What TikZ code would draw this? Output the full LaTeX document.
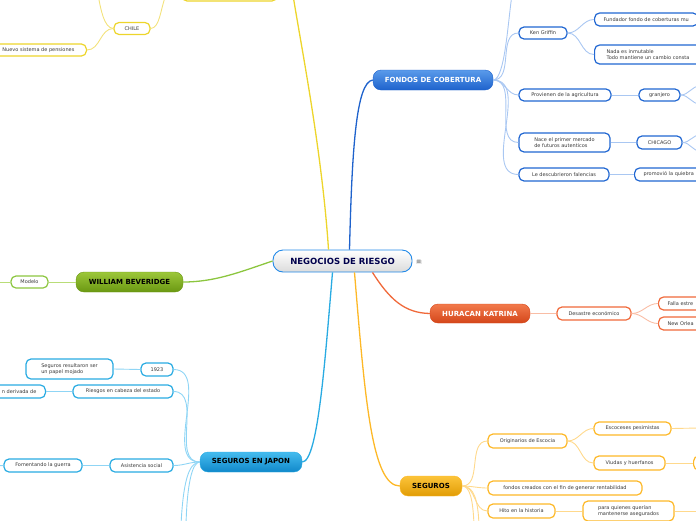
\documentclass[tikz,border=0pt]{standalone}
\usepackage{fontspec}
\setmainfont{DejaVu Sans}

% branch colours
\definecolor{leaftext}{HTML}{3A3A3A}
\definecolor{ylwbd}{HTML}{EDD52B}
\definecolor{ylwln}{HTML}{F3E27C}
\definecolor{bluebd}{HTML}{2167D2}
\definecolor{blueln}{HTML}{A9C7F2}
\definecolor{bluemain}{HTML}{1E62CC}
\definecolor{bluetop}{HTML}{5A9BEA}
\definecolor{orgbd}{HTML}{F0693A}
\definecolor{orgln}{HTML}{F9BDA5}
\definecolor{orgtop}{HTML}{F27A4C}
\definecolor{orgbot}{HTML}{D4461A}
\definecolor{grnbd}{HTML}{8CC63F}
\definecolor{grnln}{HTML}{B9DD78}
\definecolor{grntop}{HTML}{9CC73A}
\definecolor{grnbot}{HTML}{6A9812}
\definecolor{cyanbd}{HTML}{29ABE2}
\definecolor{cyanln}{HTML}{8FD5F5}
\definecolor{cyantop}{HTML}{45BCEF}
\definecolor{cyanbot}{HTML}{1088CA}
\definecolor{goldbd}{HTML}{FDB827}
\definecolor{goldln}{HTML}{FFD98C}
\definecolor{goldtop}{HTML}{FCC43A}
\definecolor{goldbot}{HTML}{E19C05}

\tikzset{
  leaf/.style={draw, fill=white, rounded corners=5pt, line width=1.2pt,
    font=\fontsize{5}{6}\selectfont, text=leaftext, inner sep=0pt,
    minimum height=13pt},
  yleaf/.style={leaf, draw=ylwbd},
  bleaf/.style={leaf, draw=bluebd},
  oleaf/.style={leaf, draw=orgbd},
  gleaf/.style={leaf, draw=grnbd},
  cleaf/.style={leaf, draw=cyanbd},
  sleaf/.style={leaf, draw=goldbd},
  topic/.style={rounded corners=8pt, inner sep=0pt, minimum height=20pt,
    font=\fontsize{7}{8}\selectfont\bfseries},
  mainline/.style={line width=1.3pt},
  twig/.style={line width=0.9pt},
}

\begin{document}
\begin{tikzpicture}[x=1pt, y=-1pt]
    \useasboundingbox (0,0) rectangle (696,520);
    \clip (0,0) rectangle (696,520);

    % Central topic
    \node[draw=cyanbd!80!blue, line width=0.9pt, rounded corners=10pt,
          top color=white, bottom color=gray!28, text=blue!30!black,
          minimum width=139pt, minimum height=22pt, inner sep=0pt,
          font=\fontsize{8.5}{10}\selectfont\bfseries] (center) at (342.5,261) {NEGOCIOS DE RIESGO};
    \node[fill=gray!18, text=gray!70!black, inner sep=0.8pt,
          font=\fontsize{6}{6}\selectfont] (menu) at (419,262) {≡};

    % Main topics
    \node[topic, draw=bluemain, top color=bluetop, bottom color=bluemain,
          text=white, minimum width=120pt] (fondos) at (433,80) {FONDOS DE COBERTURA};
    \node[topic, draw=orgbot, top color=orgtop, bottom color=orgbot,
          text=white, minimum width=100pt, minimum height=19pt] (katrina) at (480,313.5) {HURACAN KATRINA};
    \node[topic, draw=grnbot, top color=grntop, bottom color=grnbot,
          text=black, minimum width=107pt] (beveridge) at (129.5,282) {WILLIAM BEVERIDGE};
    \node[topic, draw=cyanbd, top color=cyantop, bottom color=cyanbot,
          text=black, minimum width=102pt] (japon) at (251,462) {SEGUROS EN JAPON};
    \node[topic, draw=goldbd, top color=goldtop, bottom color=goldbot,
          text=black, minimum width=62pt] (seguros) at (431,486) {SEGUROS};

    % Yellow branch (top, mostly off the page)
    \node[yleaf, minimum width=95pt, minimum height=16pt] (ytop) at (229.5,-7) {};
    \node[yleaf, minimum width=36pt, minimum height=12pt] (chile) at (132,28.5) {CHILE};
    \node[yleaf, minimum width=96pt, minimum height=12pt, anchor=east] (pensiones) at (87,50) {Nuevo sistema de pensiones};
    \coordinate (yup) at (293,-5);
    \coordinate (chileup) at (166,-5);
    \coordinate (chileother) at (98,-5);

    % Fondos de cobertura
    \node[bleaf, minimum width=48pt, minimum height=12pt] (ken) at (543,33) {Ken Griffin};
    \node[bleaf, anchor=west, inner xsep=9pt] (fundador) at (594,19.5) {Fundador fondo de coberturas mu};
    \node[bleaf, anchor=west, inner xsep=12pt, minimum height=19pt, align=left] (nada) at (594,54.5) {Nada es inmutable\\Todo mantiene un cambio consta};
    \node[bleaf, minimum width=92pt, minimum height=12pt] (agricultura) at (565,95) {Provienen de la agricultura};
    \node[bleaf, minimum width=41pt, minimum height=12pt] (granjero) at (659.5,95) {granjero};
    \node[bleaf, minimum width=91pt, minimum height=19pt, align=left] (mercado) at (564.5,142.5) {Nace el primer mercado\\de futuros autenticos};
    \node[bleaf, minimum width=45pt] (chicago) at (659.5,142.5) {CHICAGO};
    \node[bleaf, minimum width=90pt] (falencias) at (564,174.5) {Le descubrieron falencias};
    \node[bleaf, anchor=west, inner xsep=9pt] (quiebra) at (634,174.5) {promovió la quiebra};
    \coordinate (fondosup) at (512,-5);
    \coordinate (granjeroA) at (700,86);
    \coordinate (granjeroB) at (700,104);
    \coordinate (chicagoA) at (700,135);
    \coordinate (chicagoB) at (700,151);

    % Huracan Katrina
    \node[oleaf, minimum width=74pt] (desastre) at (594,313.5) {Desastre económico};
    \node[oleaf, anchor=west, inner xsep=9pt] (falla) at (658,303.5) {Falla estre};
    \node[oleaf, anchor=west, inner xsep=9pt] (orleans) at (658,323.5) {New Orlea};

    % William Beveridge
    \node[gleaf, minimum width=37pt, minimum height=12pt] (modelo) at (29.5,282) {Modelo};
    \coordinate (modelofar) at (-5,282);

    % Seguros en Japon
    \node[cleaf, minimum width=32pt] (y1923) at (157,369.5) {1923};
    \node[cleaf, minimum width=87pt, minimum height=20pt, align=left] (papel) at (69.5,369) {Seguros resultaron ser\\un papel mojado};
    \node[cleaf, minimum width=100pt] (riesgos) at (123,391.5) {Riesgos en cabeza del estado};
    \node[cleaf, anchor=east, inner xsep=9pt] (derivada) at (46,391.5) {n derivada de};
    \node[cleaf, minimum width=63pt] (asistencia) at (141.5,465.5) {Asistencia social};
    \node[cleaf, minimum width=78pt] (fomentando) at (43,465.5) {Fomentando la guerra};
    \coordinate (fomentandofar) at (-5,466);
    \coordinate (japondownA) at (181,525);
    \coordinate (japondownB) at (186,525);

    % Seguros
    \node[sleaf, minimum width=79pt, minimum height=14pt] (escocia) at (527.5,441) {Originarios de Escocia};
    \node[sleaf, minimum width=77pt] (escoceses) at (632.5,428.5) {Escoceses pesimistas};
    \node[sleaf, minimum width=71pt, minimum height=14pt] (viudas) at (629.5,463) {Viudas y huerfanos};
    \node[sleaf, anchor=west, minimum width=20pt, minimum height=14pt] (viudasnext) at (693,463) {};
    \node[sleaf, minimum width=154pt, minimum height=14pt] (creados) at (565,488) {fondos creados con el fin de generar rentabilidad};
    \node[sleaf, minimum width=67pt, minimum height=14pt] (hito) at (521.5,511) {Hito en la historia};
    \node[sleaf, minimum width=91pt, minimum height=20pt, align=left] (quienes) at (628.5,511) {para quienes querían\\mantenerse asegurados};
    \coordinate (escocesesfar) at (700,428);
    \coordinate (quienesfar) at (700,511);
    \coordinate (segurosdownA) at (474,525);
    \coordinate (segurosdownB) at (479,525);

    % Lines from the central topic
    \draw[mainline, ylwbd] ([xshift=-14pt]center.north) .. controls (322,150) and (300,40) .. (yup);
    \draw[mainline, bluemain] ([xshift=7pt]center.north) .. controls (352,150) and (356,82) .. (fondos.west);
    \draw[mainline, orgbd] ([xshift=30pt]center.south) .. controls (390,300) and (405,313) .. (katrina.west);
    \draw[mainline, grnbd] (center.west) .. controls (240,272) and (215,282) .. (beveridge.east);
    \draw[mainline, cyanbd] ([xshift=-10pt]center.south) .. controls (325,360) and (318,462) .. (japon.east);
    \draw[mainline, goldbd] ([xshift=12pt]center.south) .. controls (365,400) and (372,486) .. (seguros.west);

    % Yellow twigs
    \draw[twig, ylwln] (chile.east) .. controls (160,28) and (160,10) .. (chileup);
    \draw[twig, ylwln] (chile.west) .. controls (104,28) and (101,10) .. (chileother);
    \draw[twig, ylwln] (chile.west) to[out=180, in=0] (pensiones.east);

    % Blue twigs
    \draw[twig, blueln] (fondos.east) .. controls (505,80) and (508,20) .. (fondosup);
    \foreach \kid in {ken, agricultura, mercado, falencias}
        \draw[twig, blueln] (fondos.east) to[out=0, in=180] (\kid.west);
    \draw[twig, blueln] (ken.east) to[out=0, in=180] (fundador.west);
    \draw[twig, blueln] (ken.east) to[out=0, in=180] (nada.west);
    \draw[twig, blueln] (agricultura.east) -- (granjero.west);
    \draw[twig, blueln] (granjero.east) to[out=0, in=180] (granjeroA);
    \draw[twig, blueln] (granjero.east) to[out=0, in=180] (granjeroB);
    \draw[twig, blueln] (mercado.east) -- (chicago.west);
    \draw[twig, blueln] (chicago.east) to[out=0, in=180] (chicagoA);
    \draw[twig, blueln] (chicago.east) to[out=0, in=180] (chicagoB);
    \draw[twig, blueln] (falencias.east) -- (quiebra.west);

    % Orange twigs
    \draw[twig, orgln] (katrina.east) -- (desastre.west);
    \draw[twig, orgln] (desastre.east) to[out=0, in=180] (falla.west);
    \draw[twig, orgln] (desastre.east) to[out=0, in=180] (orleans.west);

    % Green twigs
    \draw[twig, grnln] (beveridge.west) -- (modelo.east);
    \draw[twig, grnln] (modelo.west) -- (modelofar);

    % Cyan twigs
    \foreach \kid in {y1923, riesgos, asistencia}
        \draw[twig, cyanln] (japon.west) to[out=180, in=0] (\kid.east);
    \draw[twig, cyanln] (japon.west) .. controls (188,462) and (183,485) .. (japondownA);
    \draw[twig, cyanln] (japon.west) .. controls (192,462) and (187,485) .. (japondownB);
    \draw[twig, cyanln] (y1923.west) -- (papel.east);
    \draw[twig, cyanln] (riesgos.west) -- (derivada.east);
    \draw[twig, cyanln] (asistencia.west) -- (fomentando.east);
    \draw[twig, cyanln] (fomentando.west) -- (fomentandofar);

    % Gold twigs
    \foreach \kid in {escocia, creados, hito}
        \draw[twig, goldln] (seguros.east) to[out=0, in=180] (\kid.west);
    \draw[twig, goldln] (seguros.east) .. controls (470,486) and (473,500) .. (segurosdownA);
    \draw[twig, goldln] (seguros.east) .. controls (474,486) and (478,500) .. (segurosdownB);
    \draw[twig, goldln] (escocia.east) to[out=0, in=180] (escoceses.west);
    \draw[twig, goldln] (escocia.east) to[out=0, in=180] (viudas.west);
    \draw[twig, goldln] (escoceses.east) -- (escocesesfar);
    \draw[twig, goldln] (viudas.east) -- (viudasnext.west);
    \draw[twig, goldln] (hito.east) -- (quienes.west);
    \draw[twig, goldln] (quienes.east) -- (quienesfar);

\end{tikzpicture}
\end{document}
